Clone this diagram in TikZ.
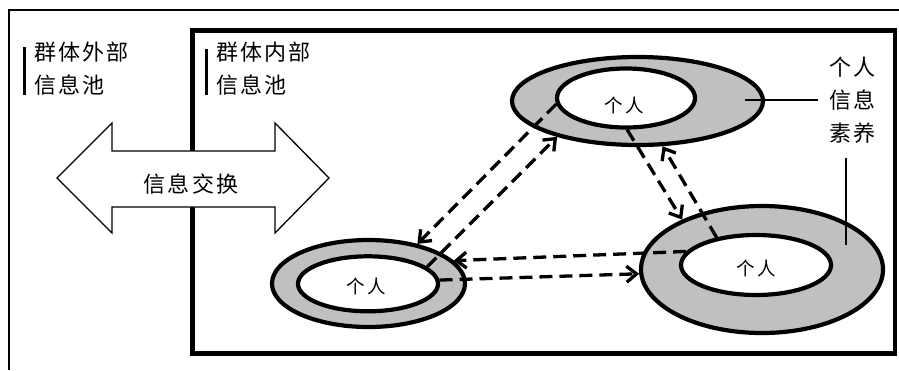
\documentclass[tikz,border=0pt]{standalone}
\usepackage{fontspec}
\newfontfamily\cjk{Noto Sans CJK SC}[LetterSpace=10]
\newfontfamily\cjkb{Noto Sans CJK SC}[LetterSpace=16]
\usetikzlibrary{shapes.geometric,arrows.meta}
\definecolor{ring}{RGB}{192,192,192}
\begin{document}
\begin{tikzpicture}[x=1pt,y=-1pt,
  lbl/.style={font={\cjk\fontsize{22pt}{33pt}\selectfont},align=left,inner sep=0pt},
  ringO/.style={ellipse,draw,line width=4.2pt,fill=ring,inner sep=0pt},
  ringI/.style={ellipse,draw,line width=4.2pt,fill=white,inner sep=0pt},
  person/.style={font={\cjkb\fontsize{18.5pt}{20pt}\selectfont},inner sep=0pt},
  flow/.style={dash pattern=on 13pt off 7pt,line width=3.3pt,-{Straight Barb[length=10pt,width=16pt]}},
  bar/.style={line width=3pt},
  thinline/.style={line width=1.5pt}]
\useasboundingbox (0,0) rectangle (899,370);
\fill[white] (0,0) rectangle (899,370);
% outer frame (partly visible)
\draw[line width=2.8pt] (9,370) -- (9,10) -- (899,10);
% inner group box
\draw[line width=4.2pt] (192.5,30.5) rectangle (895,353.5);
% exchange double arrow
\draw[line width=1.3pt,fill=white] (57,178) -- (112,123) -- (112,151) -- (275,151) -- (275,123)
  -- (329,178) -- (275,233) -- (275,207) -- (112,207) -- (112,233) -- cycle;
\node[lbl] (xchg) at (191,184) {信息交换};
% labels
\draw[bar] (24,47) -- (24,95);
\node[lbl,anchor=west] (outlbl) at (34,68.5) {群体外部\\信息池};
\draw[bar] (206,49) -- (206,95);
\node[lbl,anchor=west] (inlbl) at (216,68.5) {群体内部\\信息池};
\node[lbl,anchor=west] (lit) at (829,100.5) {个人\\信息\\素养};
% rings
\node[ringO,minimum width=251pt,minimum height=88pt] (topO) at (637.5,101) {};
\node[ringI,minimum width=138pt,minimum height=59pt] (topI) at (626,98) {};
\node[person] (topP) at (624,105) {个人};
\node[ringO,minimum width=193pt,minimum height=87pt] (blO) at (368.5,283.5) {};
\node[ringI,minimum width=140pt,minimum height=55pt] (blI) at (368,283.8) {};
\node[person] (blP) at (366,286.5) {个人};
\node[ringO,minimum width=242pt,minimum height=127pt] (rtO) at (762,269.5) {};
\node[ringI,minimum width=150pt,minimum height=60pt] (rtI) at (756,265) {};
\node[person] (rtP) at (756,268.5) {个人};
% pointer lines to label
\coordinate (h1) at (745,100);
\coordinate (h2) at (818,100);
\coordinate (v1) at (846,158);
\coordinate (v2) at (846,245);
\draw[thinline] (h1) -- (h2);
\draw[thinline] (v1) -- (v2);
% information flows
\draw[flow] (topI.185) -- (blO.39);
\draw[flow] (blI.16) -- (topO.204);
\draw[flow] (topI.272) -- (rtO.148);
\draw[flow] (rtI.145) -- (topO.299);
\draw[flow] (rtI.169) -- (blO.15);
\draw[flow] (blI.3) -- (rtO.182);
\end{tikzpicture}
\end{document}
